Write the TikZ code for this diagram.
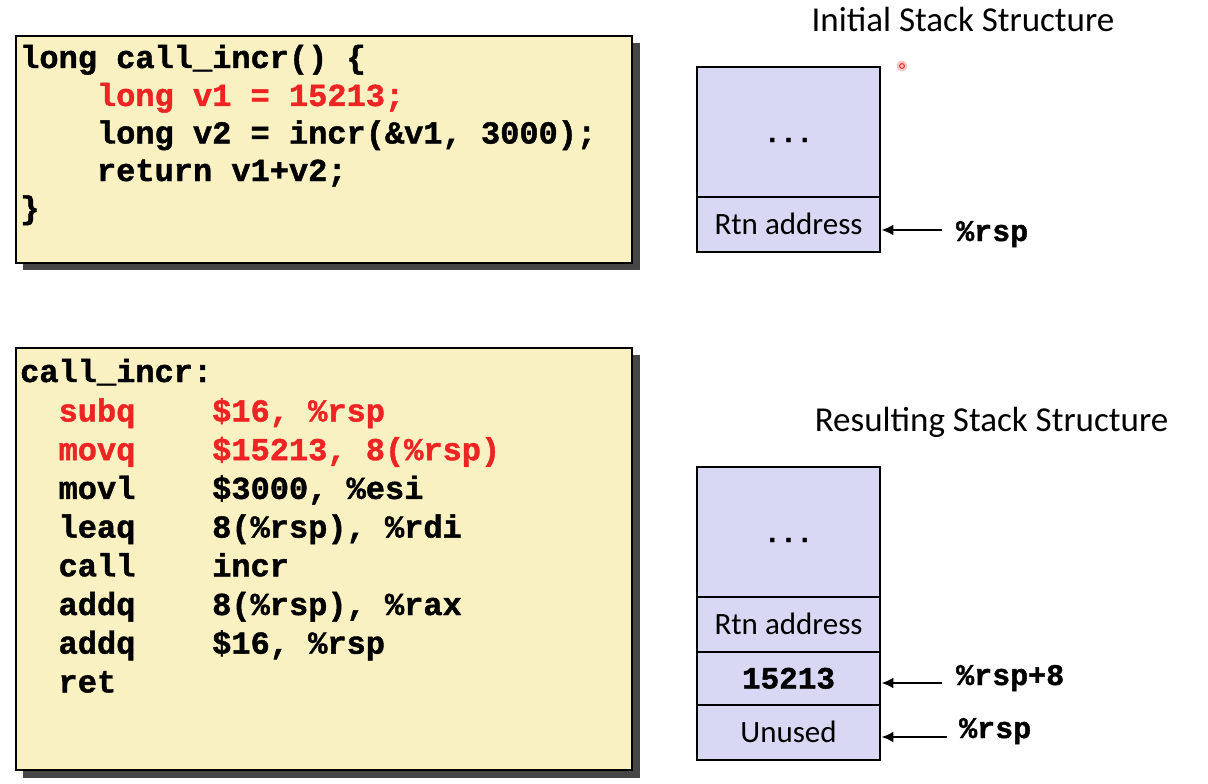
\documentclass[tikz,border=0pt]{standalone}
\usepackage{fontspec}
\setmainfont{Carlito}
\newfontfamily\codefont{Liberation Mono}[WordSpace={1,0,0}, BoldFeatures={FakeBold=1.3}]
\usetikzlibrary{arrows.meta}
\definecolor{codebg}{RGB}{250,241,194}
\definecolor{stackbg}{RGB}{216,216,244}
\definecolor{codered}{RGB}{238,36,36}
\definecolor{shadowc}{RGB}{70,70,70}
\tikzset{
  codebox/.style={draw=black, line width=1.8pt, fill=codebg},
  shadowbox/.style={fill=shadowc},
  codeline/.style={anchor=base west, inner sep=0pt, font={\codefont\bfseries\fontsize{32}{38}\selectfont}},
  redline/.style={codeline, text=codered},
  cell/.style={draw=black, line width=2.8pt, fill=stackbg, minimum width=183pt, inner sep=0pt,
    text height=20pt, text depth=0pt, font={\fontsize{31}{37}\selectfont}},
  title/.style={anchor=base, inner sep=0pt, font={\fontsize{35}{42}\selectfont}},
  reglabel/.style={anchor=base west, inner sep=0pt, font={\codefont\bfseries\fontsize{30}{36}\selectfont}},
  ptr/.style={line width=2.8pt, -{Latex[length=12pt,width=11pt]}}
}
\begin{document}
\begin{tikzpicture}[x=1pt,y=-1pt]
\useasboundingbox (0,0) rectangle (1208,784);
\fill[white] (0,0) rectangle (1208,784);

% ---------- top C code box ----------
\fill[shadowbox] (23,43) rectangle (640,270);
\draw[codebox] (16,36) rectangle (632,263);
\node[codeline] (c1) at (20,68)    {long call\_incr() \{};
\node[redline]  (c2) at (96.8,106) {long v1 = 15213;};
\node[codeline] (c3) at (96.8,143.5) {long v2 = incr(\&v1, 3000);};
\node[codeline] (c4) at (96.8,181) {return v1+v2;};
\node[codeline] (c5) at (20,218.5) {\}};

% ---------- bottom assembly box ----------
\fill[shadowbox] (23,355) rectangle (640,778);
\draw[codebox] (16,348) rectangle (632,770);
\node[codeline] (a0) at (20,382) {call\_incr:};
\node[redline]  (m1) at (58.4,421.5) {subq};
\node[redline]  (o1) at (212,421.5) {\$16, \%rsp};
\node[redline]  (m2) at (58.4,460.2) {movq};
\node[redline]  (o2) at (212,460.2) {\$15213, 8(\%rsp)};
\node[codeline] (m3) at (58.4,498.9) {movl};
\node[codeline] (o3) at (212,498.9) {\$3000, \%esi};
\node[codeline] (m4) at (58.4,537.6) {leaq};
\node[codeline] (o4) at (212,537.6) {8(\%rsp), \%rdi};
\node[codeline] (m5) at (58.4,576.3) {call};
\node[codeline] (o5) at (212,576.3) {incr};
\node[codeline] (m6) at (58.4,615) {addq};
\node[codeline] (o6) at (212,615) {8(\%rsp), \%rax};
\node[codeline] (m7) at (58.4,653.7) {addq};
\node[codeline] (o7) at (212,653.7) {\$16, \%rsp};
\node[codeline] (m8) at (58.4,692.4) {ret};

% ---------- initial stack ----------
\node[title] (t1) at (963,32) {Initial Stack Structure};
\node[cell, minimum height=130pt] (idots) at (788.5,132) {\codefont\bfseries\fontsize{27}{30}\selectfont ...};
\node[cell, minimum height=55pt] (irtn) at (788.5,224.5) {Rtn address};
\node[reglabel] (irsp) at (956,241) {\%rsp};
\coordinate (ia) at (942,230);
\draw[ptr] (ia) -- (ia -| irtn.east);

% laser pointer mark
\fill[red!22] (902,66) circle (5.5);
\draw[red!85, line width=1pt] (902,66) circle (2.4);

% ---------- resulting stack ----------
\node[title] (t2) at (991.5,431) {Resulting Stack Structure};
\node[cell, minimum height=130pt] (rdots) at (788.5,532) {\codefont\bfseries\fontsize{27}{30}\selectfont ...};
\node[cell, minimum height=55pt] (rrtn) at (788.5,624.5) {Rtn address};
\node[cell, minimum height=53pt] (rval) at (788.5,678.5) {\codefont\bfseries 15213};
\node[cell, minimum height=55pt] (runu) at (788.5,732.5) {Unused};
\node[reglabel] (rrsp8) at (956,685) {\%rsp+8};
\node[reglabel] (rrsp) at (959,738) {\%rsp};
\coordinate (ra1) at (942,683);
\coordinate (ra2) at (947,737);
\draw[ptr] (ra1) -- (ra1 -| rval.east);
\draw[ptr] (ra2) -- (ra2 -| runu.east);
\end{tikzpicture}
\end{document}
